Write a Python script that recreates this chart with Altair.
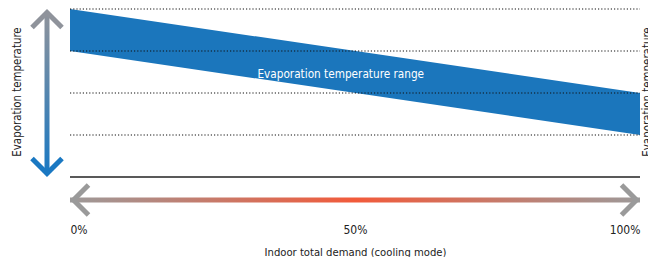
import altair as alt
import pandas as pd

# ---- data ----
demand_pct = [0, 100]            # x positions (% indoor demand)
band_low = [3, 1]                # evaporation temp range lower bound
band_high = [4, 2]               # evaporation temp range upper bound
grid_levels = [1, 2, 3, 4]
baseline_level = [0]
tick_values = [0, 50, 100]

FONT = "DejaVu Sans Condensed, Liberation Sans Narrow, sans-serif"
BLUE = "#1b76bc"

xs = alt.Scale(domain=[0, 100], range=[62, 632])
ys = alt.Scale(domain=[0, 4], range=[169, 1])

band_df = pd.DataFrame({"x": demand_pct, "lo": band_low, "hi": band_high})
grid_df = pd.DataFrame({"v": grid_levels, "x0": 0, "x1": 100})
base_df = pd.DataFrame({"v": baseline_level, "x0": 0, "x1": 100})
arrow_df = pd.DataFrame({"x0": [0], "x1": [100]})
ends_df = pd.DataFrame({"x": [0, 100]})

band = alt.Chart(band_df).mark_area(color=BLUE, opacity=1).encode(
    x=alt.X("x:Q", scale=xs, axis=alt.Axis(
        values=tick_values, labelExpr="datum.value + '%'", labelFlush=True,
        domain=False, ticks=False, grid=False, labelPadding=47,
        labelFont=FONT, labelFontSize=12, labelColor="#222",
        title="Indoor total demand (cooling mode)", titleFont=FONT,
        titleFontSize=11.2, titleFontWeight="normal", titleColor="#222",
        titlePadding=11)),
    y=alt.Y("lo:Q", scale=ys, axis=None),
    y2="hi:Q",
)

band_label = alt.Chart(pd.DataFrame({"x": [47.5], "y": [2.45],
                                     "t": ["Evaporation temperature range"]})).mark_text(
    font=FONT, fontSize=11.7, color="white", align="center", baseline="middle"
).encode(x=alt.X("x:Q", scale=xs), y=alt.Y("y:Q", scale=ys, axis=None), text="t:N")

grid = alt.Chart(grid_df).mark_rule(color="#111", strokeDash=[1.2, 2], strokeWidth=1.2).encode(
    x=alt.X("x0:Q", scale=xs), x2="x1:Q", y=alt.Y("v:Q", scale=ys, axis=None))

base = alt.Chart(base_df).mark_rule(color="#222", strokeWidth=1.3).encode(
    x=alt.X("x0:Q", scale=xs), x2="x1:Q", y=alt.Y("v:Q", scale=ys, axis=None))

h_grad = {"gradient": "linear", "x1": 0, "y1": 0, "x2": 1, "y2": 0,
          "stops": [{"offset": 0, "color": "#9c9a9a"},
                    {"offset": 0.5, "color": "#f25a3a"},
                    {"offset": 1, "color": "#9c9a9a"}]}
h_shaft = alt.Chart(arrow_df).mark_rect(fill=h_grad).encode(
    x=alt.X("x0:Q", scale=xs), x2="x1:Q",
    y=alt.value(189.5), y2=alt.value(194.5))

left_head = alt.Chart(ends_df.iloc[[0]]).mark_point(
    shape="M1,-1L0,0L1,1", filled=False, stroke="#9a9a9a", strokeWidth=5,
    strokeJoin="miter", size=900, opacity=1).encode(
    x=alt.X("x:Q", scale=xs), y=alt.value(192), xOffset=alt.value(3.5))
right_head = alt.Chart(ends_df.iloc[[1]]).mark_point(
    shape="M-1,-1L0,0L-1,1", filled=False, stroke="#9a9a9a", strokeWidth=5,
    strokeJoin="miter", size=900, opacity=1).encode(
    x=alt.X("x:Q", scale=xs), y=alt.value(192), xOffset=alt.value(-3.5))

v_grad = {"gradient": "linear", "x1": 0, "y1": 0, "x2": 0, "y2": 1,
          "stops": [{"offset": 0, "color": "#8f939b"},
                    {"offset": 1, "color": "#1a78c2"}]}
v_shaft = alt.Chart(arrow_df).mark_rect(fill=v_grad).encode(
    x=alt.value(36.5), x2=alt.value(41.5), y=alt.value(5), y2=alt.value(165))
top_head = alt.Chart(arrow_df).mark_point(
    shape="M-1,1L0,0L1,1", filled=False, stroke="#8f939b", strokeWidth=5,
    strokeJoin="miter", size=900, opacity=1).encode(
    x=alt.value(39), y=alt.value(4.5))
bot_head = alt.Chart(arrow_df).mark_point(
    shape="M-1,-1L0,0L1,-1", filled=False, stroke="#1a78c2", strokeWidth=5,
    strokeJoin="miter", size=900, opacity=1).encode(
    x=alt.value(39), y=alt.value(165.5))

ylab_df = pd.DataFrame({"t": ["Evaporation temperature"]})
left_lab = alt.Chart(ylab_df).mark_text(
    font=FONT, fontSize=11.4, color="#222", angle=270, align="center", baseline="middle"
).encode(x=alt.value(9.5), y=alt.value(84), text="t:N")
right_lab = alt.Chart(ylab_df).mark_text(
    font=FONT, fontSize=11.4, color="#222", angle=270, align="center", baseline="top"
).encode(x=alt.value(634), y=alt.value(84), text="t:N")

chart = alt.layer(
    band, grid, base, band_label, h_shaft, left_head, right_head,
    v_shaft, top_head, bot_head, left_lab, right_lab
).properties(
    width=640, height=169,
    background="white",
    autosize=alt.AutoSizeParams(type="none"),
    padding={"left": 0, "top": 0, "right": 0, "bottom": 80},
).configure_view(strokeWidth=0, stroke="transparent")

chart.save("out.html", embed_options={"renderer": "svg", "actions": False})
